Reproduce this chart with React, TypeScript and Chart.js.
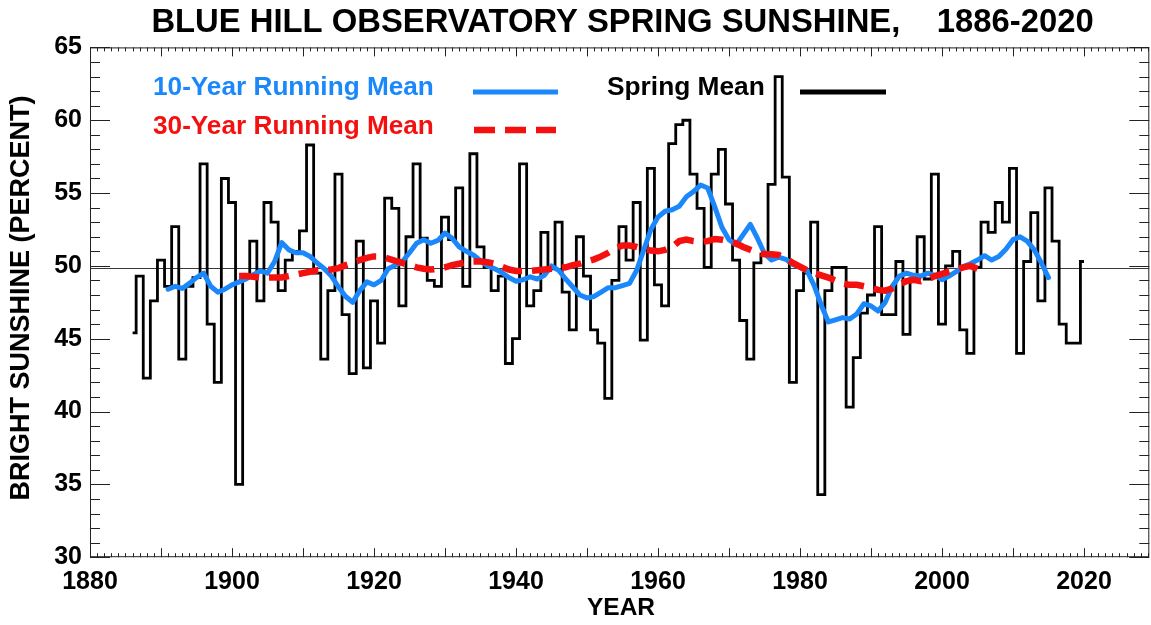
import React, { useEffect, useRef } from 'react';
import { Chart, registerables } from 'chart.js';

Chart.register(...registerables);

// ---------- data ----------
const YEARS = [
  1886, 1887, 1888, 1889, 1890, 1891, 1892, 1893, 1894, 1895,
  1896, 1897, 1898, 1899, 1900, 1901, 1902, 1903, 1904, 1905,
  1906, 1907, 1908, 1909, 1910, 1911, 1912, 1913, 1914, 1915,
  1916, 1917, 1918, 1919, 1920, 1921, 1922, 1923, 1924, 1925,
  1926, 1927, 1928, 1929, 1930, 1931, 1932, 1933, 1934, 1935,
  1936, 1937, 1938, 1939, 1940, 1941, 1942, 1943, 1944, 1945,
  1946, 1947, 1948, 1949, 1950, 1951, 1952, 1953, 1954, 1955,
  1956, 1957, 1958, 1959, 1960, 1961, 1962, 1963, 1964, 1965,
  1966, 1967, 1968, 1969, 1970, 1971, 1972, 1973, 1974, 1975,
  1976, 1977, 1978, 1979, 1980, 1981, 1982, 1983, 1984, 1985,
  1986, 1987, 1988, 1989, 1990, 1991, 1992, 1993, 1994, 1995,
  1996, 1997, 1998, 1999, 2000, 2001, 2002, 2003, 2004, 2005,
  2006, 2007, 2008, 2009, 2010, 2011, 2012, 2013, 2014, 2015,
  2016, 2017, 2018, 2019, 2020,
];

// Spring mean bright sunshine (percent), 1886-2020
const SPRING_MEAN = [
  45.4, 49.3, 42.3, 47.6, 50.4, 48.6, 52.7, 43.6, 48.6, 49.2,
  57.0, 46.0, 42.0, 56.0, 54.35, 35.0, 49.3, 51.7, 47.6, 54.35,
  53.0, 48.3, 50.4, 51.0, 52.4, 58.3, 49.5, 43.6, 48.3, 56.3,
  46.65, 42.6, 51.7, 43.0, 47.6, 44.7, 54.65, 53.95, 47.25, 52.0,
  57.0, 51.9, 49.0, 48.6, 53.35, 51.8, 55.35, 48.6, 57.7, 51.3,
  49.9, 48.3, 49.3, 43.3, 45.0, 57.0, 47.25, 48.3, 52.3, 49.8,
  53.0, 48.2, 45.6, 52.0, 49.3, 45.6, 44.7, 40.9, 49.0, 52.7,
  50.4, 54.35, 44.9, 56.7, 48.7, 47.25, 58.4, 59.7, 60.0, 56.3,
  53.95, 49.9, 56.3, 58.0, 54.25, 50.4, 46.25, 43.6, 50.2, 50.8,
  55.6, 63.0, 56.1, 42.0, 48.3, 49.5, 53.0, 34.3, 48.3, 49.9,
  49.9, 40.3, 43.7, 46.75, 48.0, 52.7, 46.65, 46.65, 50.3, 45.3,
  49.1, 52.0, 49.1, 56.3, 46.0, 50.0, 51.0, 45.6, 44.0, 49.9,
  53.0, 52.3, 54.35, 53.0, 56.7, 44.0, 50.3, 53.65, 47.6, 55.35,
  51.7, 46.0, 44.7, 44.7, 50.3,
];

// 10-year running mean, 1891-2015
const MEAN10_YEARS = YEARS.slice(5, 130);
const MEAN10 = [
  48.4, 48.6, 48.45, 48.8, 49.2, 49.5, 48.6, 48.2, 48.4, 48.7,
  48.9, 49.1, 49.4, 49.65, 49.5, 50.3, 51.6, 51.1, 50.9, 50.9,
  50.65, 50.2, 49.8, 49.3, 48.55, 47.9, 47.5, 48.3, 48.9, 48.7,
  49.0, 49.8, 50.05, 50.3, 50.9, 51.55, 51.8, 51.55, 51.75, 52.25,
  51.9, 51.3, 51.0, 50.75, 50.35, 50.0, 49.8, 49.55, 49.2, 48.95,
  49.05, 49.25, 49.1, 49.35, 50.0, 49.7, 49.1, 48.55, 48.0, 47.8,
  47.9, 48.2, 48.5, 48.5, 48.65, 48.8, 49.7, 51.1, 52.5, 53.35,
  53.75, 53.85, 54.1, 54.75, 55.1, 55.55, 55.35, 54.05, 52.65, 51.8,
  51.45, 52.15, 52.85, 51.9, 50.85, 50.4, 50.6, 50.45, 50.1, 49.9,
  49.65, 48.65, 47.3, 46.15, 46.3, 46.45, 46.35, 46.7, 47.4, 47.25,
  46.9, 47.5, 48.6, 49.3, 49.5, 49.35, 49.3, 49.5, 49.35, 49.05,
  49.3, 49.6, 49.95, 50.15, 50.4, 50.7, 50.4, 50.65, 51.15, 51.8,
  52.0, 51.7, 51.1, 50.2, 49.2,
];

// 30-year running mean, 1901-2005
const MEAN30_YEARS = YEARS.slice(15, 120);
const MEAN30 = [
  49.3, 49.3, 49.25, 49.2, 49.2, 49.2, 49.2, 49.3, 49.4, 49.5,
  49.6, 49.7, 49.7, 49.75, 49.85, 50.05, 50.2, 50.4, 50.55, 50.65,
  50.65, 50.5, 50.35, 50.2, 50.05, 49.9, 49.8, 49.75, 49.8, 49.9,
  50.05, 50.15, 50.25, 50.3, 50.3, 50.25, 50.15, 49.95, 49.75, 49.65,
  49.65, 49.65, 49.7, 49.75, 49.8, 49.85, 49.9, 50.05, 50.15, 50.3,
  50.45, 50.65, 50.9, 51.2, 51.4, 51.4, 51.3, 51.15, 51.05, 51.0,
  51.1, 51.3, 51.7, 51.8, 51.7, 51.65, 51.7, 51.85, 51.8, 51.7,
  51.55, 51.3, 51.1, 50.9, 50.8, 50.8, 50.75, 50.5, 50.2, 49.95,
  49.7, 49.5, 49.35, 49.2, 49.0, 48.8, 48.7, 48.7, 48.6, 48.5,
  48.35, 48.3, 48.45, 48.75, 48.95, 49.05, 48.95, 49.1, 49.3, 49.45,
  49.6, 49.75, 49.9, 50.0, 49.8,
];

const LONG_TERM_MEAN = 49.85;

const X_MIN = 1880;
const X_MAX = 2029.2;
const Y_MIN = 30;
const Y_MAX = 65;
const X_TICK_LABELS = [1880, 1900, 1920, 1940, 1960, 1980, 2000, 2020];
const Y_TICK_LABELS = [30, 35, 40, 45, 50, 55, 60, 65];

const TITLE = 'BLUE HILL OBSERVATORY SPRING SUNSHINE,    1886-2020';
const X_TITLE = 'YEAR';
const Y_TITLE = 'BRIGHT SUNSHINE (PERCENT)';
const LEGEND_10 = '10-Year Running Mean';
const LEGEND_30 = '30-Year Running Mean';
const LEGEND_SPRING = 'Spring Mean';

const BLUE = '#1a88fa';
const RED = '#f51010';
const BLACK = '#000000';
const FONT = '"Liberation Sans", Arial, Helvetica, sans-serif';

function drawText(
  ctx: CanvasRenderingContext2D,
  s: string,
  x: number,
  y: number,
  size: number,
  sx: number,
  align: CanvasTextAlign,
  color: string,
  rotate = false,
) {
  ctx.save();
  ctx.translate(x, y);
  if (rotate) ctx.rotate(-Math.PI / 2);
  ctx.scale(sx, 1);
  ctx.font = `bold ${size}px ${FONT}`;
  ctx.textAlign = align;
  ctx.textBaseline = 'middle';
  ctx.fillStyle = color;
  ctx.fillText(s, 0, 0);
  ctx.restore();
}

const idlPlugin = {
  id: 'idlFrame',
  beforeDatasetsDraw(chart: any) {
    const { ctx, chartArea: a, scales } = chart;
    const py = Math.round(scales.y.getPixelForValue(LONG_TERM_MEAN)) + 0.5;
    ctx.save();
    ctx.strokeStyle = '#3a3a3a';
    ctx.lineWidth = 1;
    ctx.beginPath();
    ctx.moveTo(a.left, py);
    ctx.lineTo(a.right, py);
    ctx.stroke();
    ctx.restore();
  },
  afterDraw(chart: any) {
    const { ctx, chartArea: a, scales } = chart;
    const xs = scales.x;
    const ys = scales.y;
    ctx.save();
    ctx.strokeStyle = '#222';
    ctx.lineWidth = 1;
    // frame
    ctx.strokeRect(a.left + 0.5, a.top + 0.5, a.right - a.left - 1, a.bottom - a.top - 1);
    ctx.beginPath();
    // x ticks (yearly minor, decade major), bottom and top, inward
    for (let yr = X_MIN; yr <= Math.floor(X_MAX); yr++) {
      const px = Math.round(xs.getPixelForValue(yr)) + 0.5;
      const len = yr % 10 === 0 ? 9 : 4;
      ctx.moveTo(px, a.bottom);
      ctx.lineTo(px, a.bottom - len);
      ctx.moveTo(px, a.top);
      ctx.lineTo(px, a.top + len);
    }
    // y ticks (unit minor, 5 major), left and right, inward
    for (let v = Y_MIN; v <= Y_MAX; v++) {
      const py = Math.round(ys.getPixelForValue(v)) + 0.5;
      const len = v % 5 === 0 ? 20 : 10;
      ctx.moveTo(a.left, py);
      ctx.lineTo(a.left + len, py);
      ctx.moveTo(a.right, py);
      ctx.lineTo(a.right - len, py);
    }
    ctx.stroke();
    ctx.restore();

    // tick labels
    for (const v of Y_TICK_LABELS) {
      drawText(ctx, String(v), 82, ys.getPixelForValue(v), 25, 1.0, 'right', BLACK);
    }
    for (const yr of X_TICK_LABELS) {
      drawText(ctx, String(yr), xs.getPixelForValue(yr), 582.5, 25, 1.0, 'center', BLACK);
    }
    // axis titles
    drawText(ctx, X_TITLE, 621, 608, 24.5, 1.0, 'center', BLACK);
    drawText(ctx, Y_TITLE, 22, 298, 27, 1.0, 'center', BLACK, true);
    // title
    drawText(ctx, TITLE, 622.5, 23, 32.8, 1.0, 'center', BLACK);

    // legend
    drawText(ctx, LEGEND_10, 153, 87.5, 26.2, 1.0, 'left', BLUE);
    drawText(ctx, LEGEND_30, 153, 127, 26.2, 1.0, 'left', RED);
    drawText(ctx, LEGEND_SPRING, 607, 87.5, 26.3, 1.0, 'left', BLACK);
    ctx.save();
    ctx.lineCap = 'butt';
    ctx.strokeStyle = BLUE;
    ctx.lineWidth = 5;
    ctx.beginPath();
    ctx.moveTo(473, 92);
    ctx.lineTo(558, 92);
    ctx.stroke();
    ctx.strokeStyle = RED;
    ctx.lineWidth = 6.5;
    ctx.setLineDash([21, 10]);
    ctx.beginPath();
    ctx.moveTo(474, 130);
    ctx.lineTo(556, 130);
    ctx.stroke();
    ctx.setLineDash([]);
    ctx.strokeStyle = BLACK;
    ctx.lineWidth = 5;
    ctx.beginPath();
    ctx.moveTo(800, 92);
    ctx.lineTo(886, 92);
    ctx.stroke();
    ctx.restore();
  },
};

export default function App() {
  const canvasRef = useRef<HTMLCanvasElement | null>(null);

  useEffect(() => {
    document.body.style.margin = '0';
    const canvas = canvasRef.current;
    if (!canvas) return;
    const chart = new Chart(canvas, {
      type: 'line',
      data: {
        datasets: [
          {
            label: LEGEND_30,
            data: MEAN30.map((v, i) => ({ x: MEAN30_YEARS[i], y: v })),
            borderColor: RED,
            borderWidth: 6.5,
            borderDash: [20, 10],
            borderCapStyle: 'butt',
            pointRadius: 0,
            tension: 0,
            fill: false,
          },
          {
            label: LEGEND_10,
            data: MEAN10.map((v, i) => ({ x: MEAN10_YEARS[i], y: v })),
            borderColor: BLUE,
            borderWidth: 5,
            borderJoinStyle: 'round',
            borderCapStyle: 'round',
            pointRadius: 0,
            tension: 0,
            fill: false,
          },
          {
            label: LEGEND_SPRING,
            data: SPRING_MEAN.map((v, i) => ({ x: YEARS[i], y: v })),
            borderColor: BLACK,
            borderWidth: 2.8,
            stepped: 'middle',
            borderJoinStyle: 'miter',
            pointRadius: 0,
            fill: false,
          },
        ],
      } as any,
      options: {
        animation: false,
        responsive: false,
        maintainAspectRatio: false,
        events: [],
        layout: { padding: { left: 90, top: 47.4, right: 1.7, bottom: 67.8 } },
        scales: {
          x: { type: 'linear', min: X_MIN, max: X_MAX, display: false },
          y: { type: 'linear', min: Y_MIN, max: Y_MAX, display: false },
        },
        plugins: {
          legend: { display: false },
          tooltip: { enabled: false },
          title: { display: false },
        },
      } as any,
      plugins: [idlPlugin],
    });
    return () => chart.destroy();
  }, []);

  return (
    <div style={{ width: 1151, height: 625, background: '#fff' }}>
      <canvas ref={canvasRef} width={1151} height={625} style={{ display: 'block' }} />
    </div>
  );
}
